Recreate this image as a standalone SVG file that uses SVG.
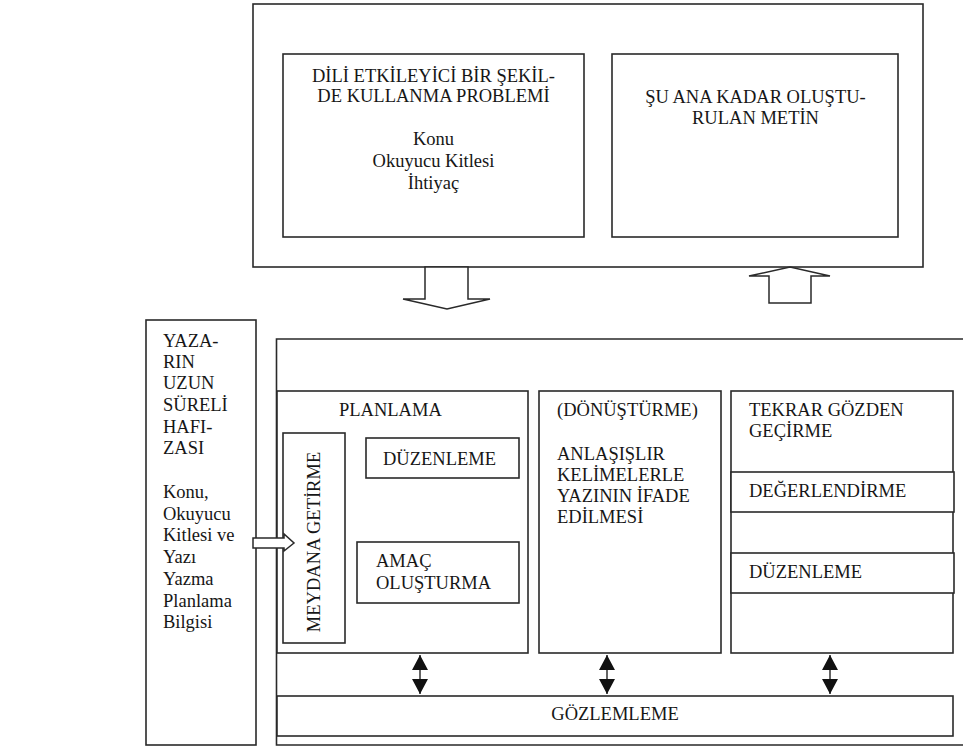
<svg xmlns="http://www.w3.org/2000/svg" width="963" height="749" viewBox="0 0 963 749">
<defs>
<style>
.bx{fill:#fff;stroke:#2a2a2a;stroke-width:1.6}
.ln{fill:none;stroke:#2a2a2a;stroke-width:1.6}
.ha{fill:#fff;stroke:#2a2a2a;stroke-width:1.5;stroke-linejoin:miter}
.t{font-family:"Liberation Serif","Times New Roman",serif;font-size:18.5px;fill:#161616}
.c{text-anchor:middle}
.dl{fill:none;stroke:#111;stroke-width:1.3}
</style>
<marker id="tri" viewBox="0 0 15 16" refX="15" refY="8" markerWidth="15" markerHeight="16" markerUnits="userSpaceOnUse" orient="auto-start-reverse">
<path d="M0,0 L15,8 L0,16 Z" fill="#111"/>
</marker>
</defs>
<rect width="963" height="749" fill="#fff"/>

<g id="top-frame">
<rect class="bx" x="253" y="4" width="670" height="263"/>
</g>
<g id="problem">
<rect class="bx" x="283" y="54" width="301" height="183"/>
<text class="t c" x="433.5" y="82">DİLİ ETKİLEYİCİ BİR ŞEKİL-</text>
<text class="t c" x="433.5" y="102">DE KULLANMA PROBLEMİ</text>
<text class="t c" x="433.5" y="145">Konu</text>
<text class="t c" x="433.5" y="167">Okuyucu Kitlesi</text>
<text class="t c" x="433.5" y="189">İhtiyaç</text>
</g>
<g id="metin">
<rect class="bx" x="612" y="54" width="286" height="183"/>
<text class="t c" x="755.5" y="103">ŞU ANA KADAR OLUŞTU-</text>
<text class="t c" x="755.5" y="124">RULAN METİN</text>
</g>

<g id="hafiza">
<rect class="bx" x="146" y="320" width="110" height="425"/>
<text class="t" x="163" y="347">YAZA-</text>
<text class="t" x="163" y="368">RIN</text>
<text class="t" x="163" y="389">UZUN</text>
<text class="t" x="163" y="411">SÜRELİ</text>
<text class="t" x="163" y="433">HAFI-</text>
<text class="t" x="163" y="454">ZASI</text>
<text class="t" x="163" y="498">Konu,</text>
<text class="t" x="163" y="520">Okuyucu</text>
<text class="t" x="163" y="541">Kitlesi ve</text>
<text class="t" x="163" y="563">Yazı</text>
<text class="t" x="163" y="585">Yazma</text>
<text class="t" x="163" y="607">Planlama</text>
<text class="t" x="163" y="628">Bilgisi</text>
</g>

<g id="process-frame">
<path class="ln" d="M966,339 H276.5 V745 H966"/>
</g>

<g id="planlama">
<rect class="bx" x="277" y="391" width="251" height="262"/>
<text class="t" x="339" y="416">PLANLAMA</text>
</g>
<g id="meydana-getirme">
<rect class="bx" x="283" y="433" width="62" height="210"/>
<text class="t c" transform="translate(320,542) rotate(-90)">MEYDANA GETİRME</text>
</g>
<g id="duzenleme-1">
<rect class="bx" x="366" y="438" width="153" height="40"/>
<text class="t" x="383" y="465">DÜZENLEME</text>
</g>
<g id="amac">
<rect class="bx" x="357" y="542" width="162" height="61"/>
<text class="t" x="376" y="567">AMAÇ</text>
<text class="t" x="376" y="589">OLUŞTURMA</text>
</g>

<g id="donusturme">
<rect class="bx" x="539" y="391" width="182" height="262"/>
<text class="t" x="557" y="416">(DÖNÜŞTÜRME)</text>
<text class="t" x="557" y="460">ANLAŞIŞLIR</text>
<text class="t" x="557" y="481">KELİMELERLE</text>
<text class="t" x="557" y="502">YAZININ İFADE</text>
<text class="t" x="557" y="523">EDİLMESİ</text>
</g>

<g id="tekrar">
<rect class="bx" x="731" y="391" width="222" height="262"/>
<text class="t" x="749" y="416">TEKRAR GÖZDEN</text>
<text class="t" x="749" y="437">GEÇİRME</text>
</g>
<g id="degerlendirme">
<rect class="bx" x="731" y="472" width="223" height="40"/>
<text class="t" x="749" y="497">DEĞERLENDİRME</text>
</g>
<g id="duzenleme-2">
<rect class="bx" x="731" y="553" width="223" height="40"/>
<text class="t" x="749" y="578">DÜZENLEME</text>
</g>

<g id="gozlemleme">
<rect class="bx" x="277" y="696" width="676" height="40"/>
<text class="t c" x="615" y="720">GÖZLEMLEME</text>
</g>

<g id="connectors">
<polygon class="ha" points="425,267 468,267 468,299 490,299 447,309 403,299 425,299"/>
<polygon class="ha" points="769,303 811,303 811,276 830,276 790,267 749,276 769,276"/>
<polygon class="ha" points="253,538 284,538 284,534 294,543 284,551 284,548 253,548"/>
<line class="dl" x1="420" y1="655" x2="420" y2="694" marker-start="url(#tri)" marker-end="url(#tri)"/>
<line class="dl" x1="607" y1="655" x2="607" y2="694" marker-start="url(#tri)" marker-end="url(#tri)"/>
<line class="dl" x1="830" y1="655" x2="830" y2="694" marker-start="url(#tri)" marker-end="url(#tri)"/>
</g>
</svg>
